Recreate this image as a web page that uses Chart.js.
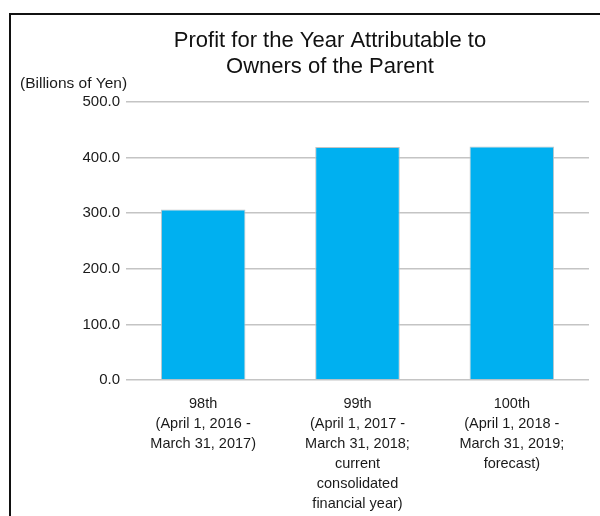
<!DOCTYPE html>
<html>
<head>
<meta charset="utf-8">
<script src="https://cdn.jsdelivr.net/npm/chart.js@4"></script>
<style>
  html, body { margin: 0; padding: 0; background: #ffffff; }
  #wrap { position: relative; width: 600px; height: 516px; overflow: hidden; }
  #frame { position: absolute; left: 9px; top: 13px; width: 600px; height: 520px;
           border-left: 2px solid #111; border-top: 2px solid #111; box-sizing: border-box; }
  canvas { position: absolute; left: 0; top: 0; }
</style>
</head>
<body>
<div id="wrap">
  <div id="frame"></div>
  <canvas id="c" width="600" height="516"></canvas>
</div>
<script>
const titleLines = ["Profit for the Year Attributable to", "Owners of the Parent"];
const unitLabel = "(Billions of Yen)";
const categories = [
  ["98th", "(April 1, 2016 -", "March 31, 2017)"],
  ["99th", "(April 1, 2017 -", "March 31, 2018;", "current", "consolidated", "financial year)"],
  ["100th", "(April 1, 2018 -", "March 31, 2019;", "forecast)"]
];
const profitValues = [306.6, 419.0, 420.0];
const yTicks = [0, 100, 200, 300, 400, 500];

const FONT = "'Liberation Sans', Arial, sans-serif";

const unitPlugin = {
  id: 'unitLabel',
  afterDraw(chart) {
    const ctx = chart.ctx;
    ctx.save();
    ctx.font = "15.5px " + FONT;
    ctx.fillStyle = '#1a1a1a';
    ctx.textAlign = 'left';
    ctx.textBaseline = 'middle';
    ctx.fillText(unitLabel, 20, 84);
    ctx.restore();
  }
};

new Chart(document.getElementById('c'), {
  type: 'bar',
  data: {
    labels: categories,
    datasets: [{
      data: profitValues,
      backgroundColor: '#00B0F0',
      borderColor: '#c4c4c4',
      borderWidth: 1,
      categoryPercentage: 1.0,
      barPercentage: 0.548
    }]
  },
  options: {
    responsive: false,
    animation: false,
    devicePixelRatio: 1,
    layout: { padding: { left: 71, right: 11, top: 0, bottom: 0 } },
    plugins: {
      legend: { display: false },
      tooltip: { enabled: false },
      title: {
        display: true,
        text: titleLines,
        color: '#111',
        font: { family: FONT, size: 22, weight: 'normal', lineHeight: 26 / 22 },
        padding: { top: 28, bottom: 22 }
      }
    },
    scales: {
      x: {
        grid: { display: false, drawTicks: false },
        border: { display: false },
        ticks: {
          color: '#1a1a1a',
          font: { family: FONT, size: 14.5, lineHeight: 20 / 14.5 },
          padding: 14,
          maxRotation: 0,
          autoSkip: false
        },
        afterFit(scale) { scale.height = 136; }
      },
      y: {
        min: 0,
        max: 500,
        afterBuildTicks(scale) { scale.ticks = yTicks.map(v => ({ value: v })); },
        grid: { color: '#c4c4c4', lineWidth: 1.5, drawTicks: false },
        border: { display: false },
        ticks: {
          color: '#1a1a1a',
          font: { family: FONT, size: 15 },
          padding: 6,
          callback: v => Number(v).toFixed(1)
        },
        afterFit(scale) { scale.width = 55; }
      }
    }
  },
  plugins: [unitPlugin]
});
</script>
</body>
</html>
